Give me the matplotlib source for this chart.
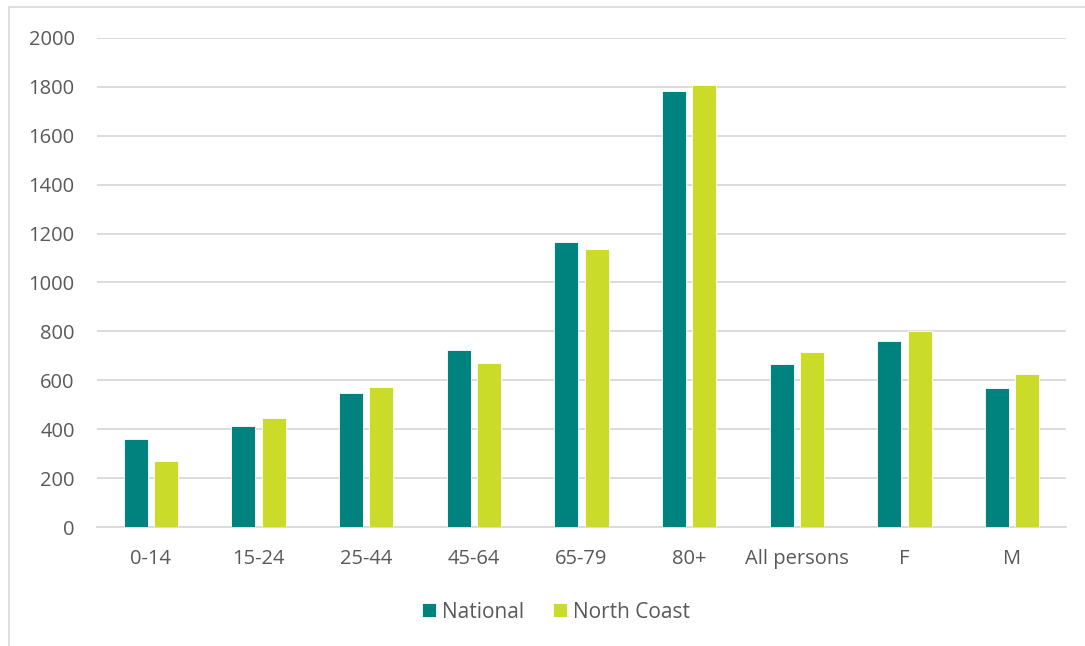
import matplotlib.pyplot as plt
import numpy as np
from matplotlib.patches import Rectangle

plt.rcParams['font.family'] = ['Open Sans', 'DejaVu Sans']

# data
categories = ['0-14', '15-24', '25-44', '45-64', '65-79', '80+', 'All persons', 'F', 'M']
national = [359, 415, 547, 724, 1165, 1783, 665, 761, 567]
north_coast = [268, 446, 572, 671, 1139, 1806, 717, 803, 626]
yticks = [0, 200, 400, 600, 800, 1000, 1200, 1400, 1600, 1800, 2000]

teal = '#00837F'
lime = '#CBDB2A'
txt = '#595959'
grid = '#D9D9D9'

fig = plt.figure(figsize=(10.85, 6.46), dpi=100)
ax = fig.add_axes([0.0894, 0.1842, 0.8931, 0.757])

# outer chart border
fig.patches.append(Rectangle((9 / 1085, -0.01), 1.02, 1 - 7 / 646 + 0.01,
                             transform=fig.transFigure, fill=False,
                             edgecolor=grid, lw=1.2))

x = np.arange(len(categories))
w = 0.225
off = 0.141
ax.bar(x - off, national, width=w, color=teal, edgecolor='white', lw=0.6,
       label='National', zorder=3)
ax.bar(x + off, north_coast, width=w, color=lime, edgecolor='white', lw=0.6,
       label='North Coast', zorder=3)

ax.set_xlim(-0.5, len(categories) - 0.5)
ax.set_ylim(0, 2000)
ax.set_yticks(yticks)
ax.set_xticks(x)
ax.set_xticklabels(categories)
ax.yaxis.grid(True, color=grid, lw=1.3, zorder=0)
ax.set_axisbelow(True)
for s in ['top', 'right', 'left']:
    ax.spines[s].set_visible(False)
ax.spines['bottom'].set_color(grid)
ax.spines['bottom'].set_linewidth(1.3)
ax.tick_params(axis='both', length=0, labelsize=14.5, colors=txt)
ax.tick_params(axis='y', pad=16)
ax.tick_params(axis='x', pad=16)

leg = ax.legend(loc='center', bbox_to_anchor=(556 / 1085, 1 - 612 / 646),
                bbox_transform=fig.transFigure, ncol=2, frameon=False,
                fontsize=15, handlelength=0.65, handleheight=0.65,
                handletextpad=0.3, columnspacing=1.4)
for t in leg.get_texts():
    t.set_color(txt)

plt.savefig('out.png', dpi=100)
